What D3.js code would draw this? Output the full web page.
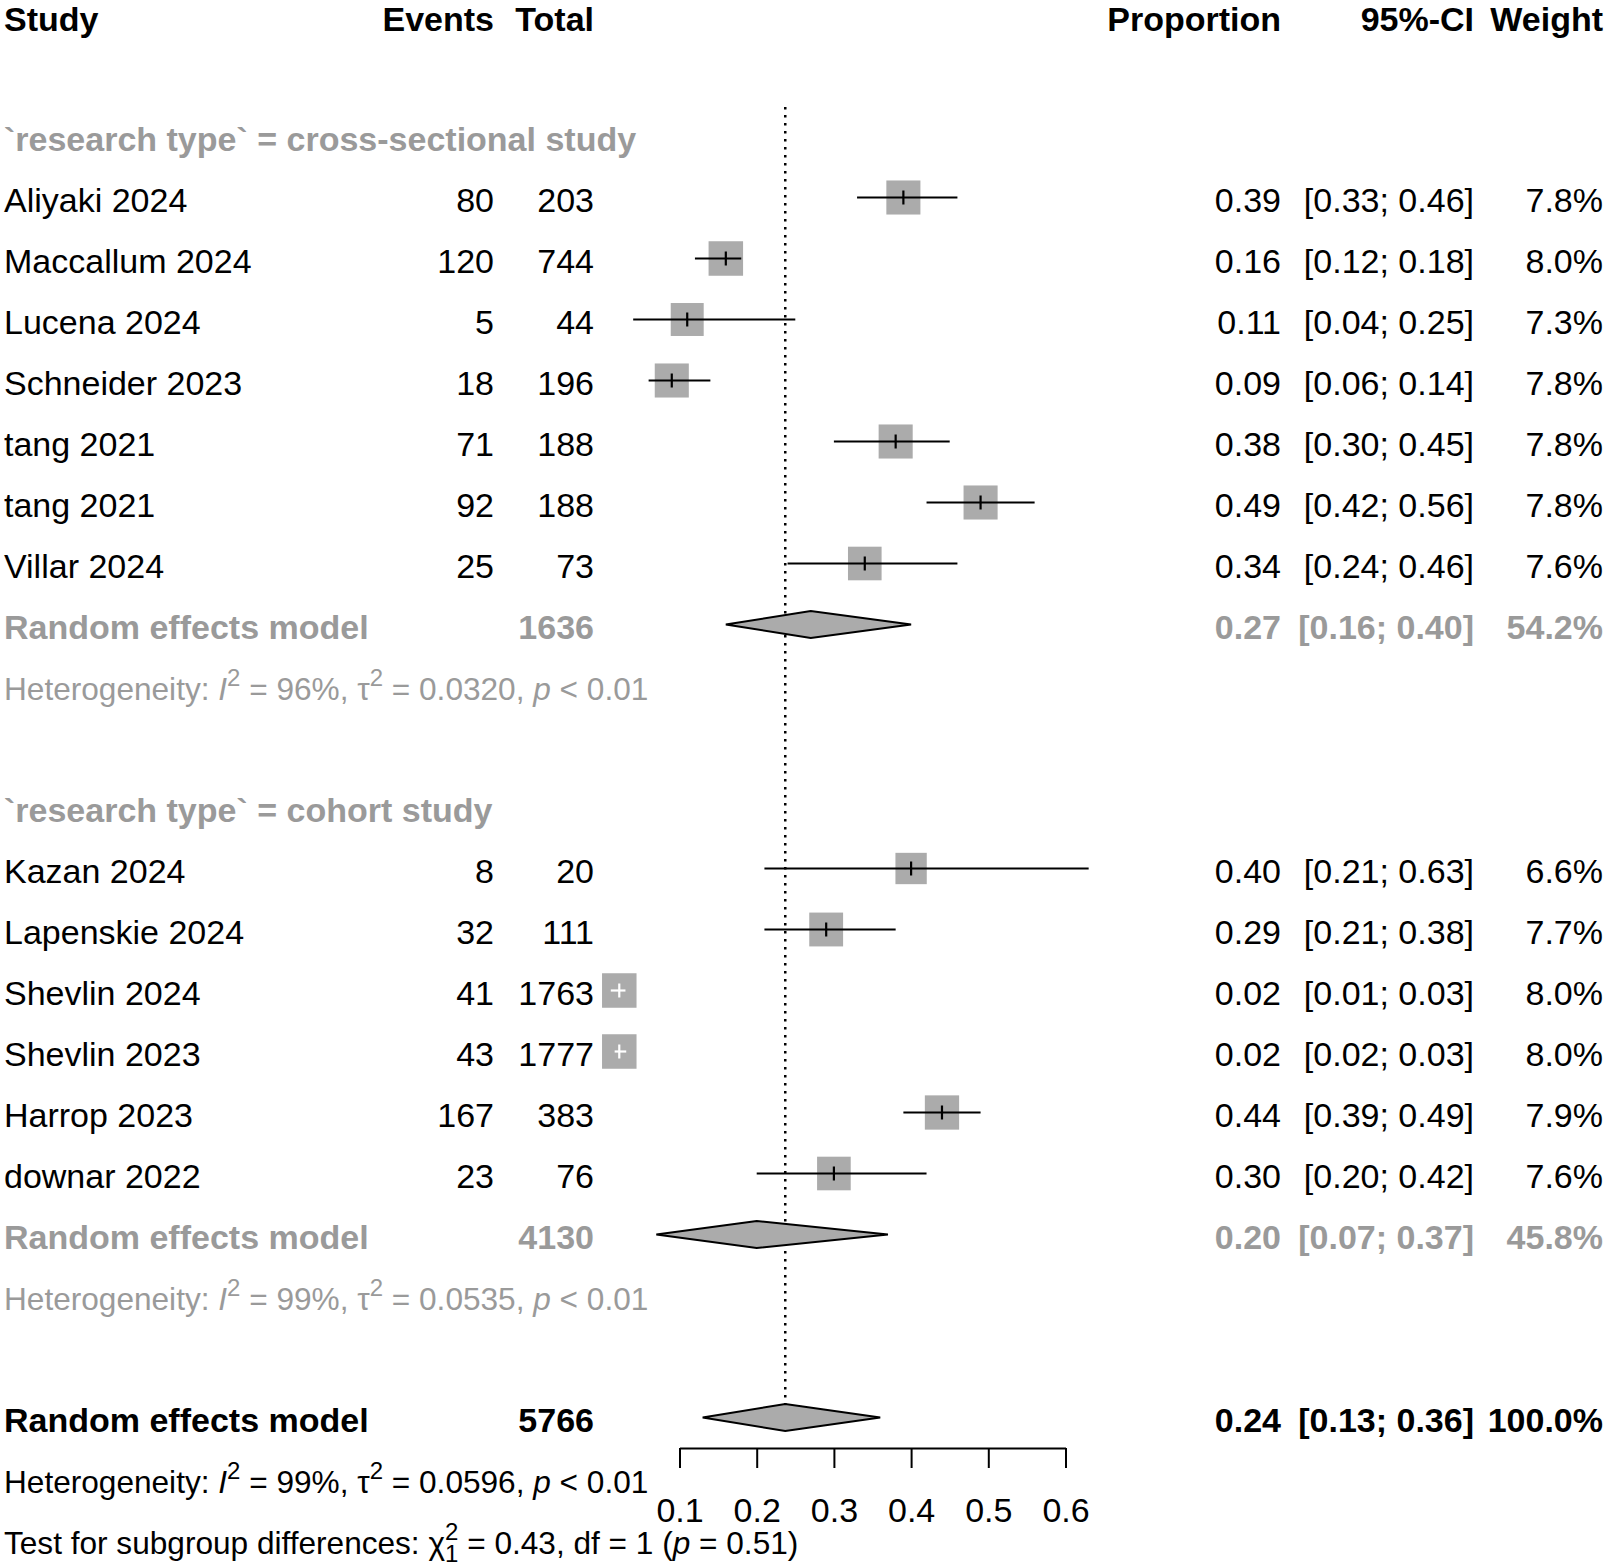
<!DOCTYPE html>
<html>
<head>
<meta charset="utf-8">
<script src="https://cdn.jsdelivr.net/npm/d3@7"></script>
<style>
  body { margin: 0; background: #fff; }
  svg { display: block; }
</style>
</head>
<body>
<script>
// study level data
var studyNames = ['Aliyaki 2024', 'Maccallum 2024', 'Lucena 2024', 'Schneider 2023', 'tang 2021', 'tang 2021', 'Villar 2024',
	'Kazan 2024', 'Lapenskie 2024', 'Shevlin 2024', 'Shevlin 2023', 'Harrop 2023', 'downar 2022'];
var studyGroup = [0, 0, 0, 0, 0, 0, 0, 1, 1, 1, 1, 1, 1];
var studyEvents = [80, 120, 5, 18, 71, 92, 25, 8, 32, 41, 43, 167, 23];
var studyTotal = [203, 744, 44, 196, 188, 188, 73, 20, 111, 1763, 1777, 383, 76];
var studyProp = [0.39, 0.16, 0.11, 0.09, 0.38, 0.49, 0.34, 0.40, 0.29, 0.022, 0.022, 0.44, 0.30];
var studyLower = [0.33, 0.12, 0.04, 0.06, 0.30, 0.42, 0.24, 0.21, 0.21, 0.011, 0.016, 0.39, 0.20];
var studyUpper = [0.46, 0.18, 0.25, 0.14, 0.45, 0.56, 0.46, 0.63, 0.38, 0.030, 0.031, 0.49, 0.42];
var studyWeight = [7.8, 8.0, 7.3, 7.8, 7.8, 7.8, 7.6, 6.6, 7.7, 8.0, 8.0, 7.9, 7.6];

// subgroups
var groupNames = ['cross-sectional study', 'cohort study'];
var groupTotal = [1636, 4130];
var groupProp = [0.27, 0.20];
var groupLower = [0.16, 0.07];
var groupUpper = [0.40, 0.37];
var groupWeight = [54.2, 45.8];
var groupI2 = [96, 99];
var groupTau2 = [0.0320, 0.0535];

// overall
var overallTotal = 5766;
var overallProp = 0.237;
var overallLower = 0.13;
var overallUpper = 0.36;
var overallI2 = 99;
var overallTau2 = 0.0596;
var testChi2 = 0.43, testDf = 1, testP = 0.51;

var axisTicks = [0.1, 0.2, 0.3, 0.4, 0.5, 0.6];
var headers = ['Study', 'Events', 'Total', 'Proportion', '95%-CI', 'Weight'];

var W = 1606, H = 1565;
var FONT = '"Liberation Sans", Arial, Helvetica, sans-serif';
var GREY = '#9a9a9a';
var FILL = '#ababab';
var HET = 31.6; // het / test lines are a touch smaller
var col = { study: 4, events: 494, total: 594, prop: 1281, ci: 1474, weight: 1603 };

var svg = d3.select('body').append('svg')
	.attr('width', W)
	.attr('height', H)
	.style('font-family', FONT);

var y = d3.scaleLinear().domain([0, 25]).range([14.5, 14.5 + 61 * 25]);
var x = d3.scaleLinear().domain([0.1, 0.6]).range([679.5, 1065.5]);
var side = d3.scaleSqrt().domain([0, 8]).range([0, 34.5]);
var f2 = d3.format('.2f'), f1 = d3.format('.1f'), f4 = d3.format('.4f');

// work out which row everything goes on
var studyRow = [], titleRow = [], remRow = [], hetRow = [];
var r = 2;
groupNames.forEach(function(g, gi) {
	titleRow[gi] = r++;
	studyNames.forEach(function(s, i) {
		if (studyGroup[i] === gi) studyRow[i] = r++;
	});
	remRow[gi] = r++;
	hetRow[gi] = r++;
	r++;
});
var overallRow = r, overallHetRow = r + 1, testRow = r + 2;

function label(row, xpos, anchor, str, bold, color, size) {
	return svg.append('text')
		.attr('x', xpos)
		.attr('y', y(row) + (row === 0 ? 16.5 : 14.5))
		.attr('text-anchor', anchor)
		.style('font-size', (size || 34) + 'px')
		.style('font-weight', bold ? 'bold' : 'normal')
		.attr('fill', color || '#000')
		.text(str);
}

// reference line at the pooled estimate
svg.append('line')
	.attr('x1', x(overallProp)).attr('x2', x(overallProp))
	.attr('y1', 107).attr('y2', y(overallRow) - 13.5)
	.attr('stroke', '#000')
	.attr('stroke-width', 2.5)
	.attr('stroke-dasharray', '2.5 5.5');

// header
var headX = [col.study, col.events, col.total, col.prop, col.ci, col.weight];
headers.forEach(function(h, i) {
	label(0, headX[i], i === 0 ? 'start' : 'end', h, true);
});

// studies
studyNames.forEach(function(s, i) {
	var row = studyRow[i];
	label(row, col.study, 'start', s);
	label(row, col.events, 'end', studyEvents[i]);
	label(row, col.total, 'end', studyTotal[i]);
	label(row, col.prop, 'end', f2(studyProp[i]));
	label(row, col.ci, 'end', '[' + f2(studyLower[i]) + '; ' + f2(studyUpper[i]) + ']');
	label(row, col.weight, 'end', f1(studyWeight[i]) + '%');

	var cy = y(row), cx = x(studyProp[i]), s2 = side(studyWeight[i]);
	svg.append('rect')
		.attr('x', cx - s2 / 2).attr('y', cy - s2 / 2)
		.attr('width', s2).attr('height', s2)
		.attr('fill', FILL);
	// CI lines go white when they fit inside the box
	var inside = x(studyUpper[i]) - x(studyLower[i]) < s2;
	var lc = inside ? '#fff' : '#000';
	svg.append('line')
		.attr('x1', x(studyLower[i])).attr('x2', x(studyUpper[i]))
		.attr('y1', cy).attr('y2', cy)
		.attr('stroke', lc).attr('stroke-width', 2.2);
	svg.append('line')
		.attr('x1', cx).attr('x2', cx)
		.attr('y1', cy - 7).attr('y2', cy + 7)
		.attr('stroke', lc).attr('stroke-width', 2.2);
});

function diamond(row, est, lo, hi) {
	var cy = y(row);
	svg.append('path')
		.attr('d', 'M' + x(lo) + ',' + cy + 'L' + x(est) + ',' + (cy - 13.5) +
			'L' + x(hi) + ',' + cy + 'L' + x(est) + ',' + (cy + 13.5) + 'Z')
		.attr('fill', FILL)
		.attr('stroke', '#000')
		.attr('stroke-width', 2)
		.attr('stroke-linejoin', 'miter');
}

function hetText(row, i2, tau2, color) {
	var t = label(row, col.study, 'start', null, false, color, HET);
	t.append('tspan').text('Heterogeneity: ');
	t.append('tspan').style('font-style', 'italic').text('I');
	t.append('tspan').attr('dy', -14).style('font-size', '24px').text('2');
	t.append('tspan').attr('dy', 14).text(' = ' + i2 + '%, τ');
	t.append('tspan').attr('dy', -14).style('font-size', '24px').text('2');
	t.append('tspan').attr('dy', 14).text(' = ' + f4(tau2) + ', ');
	t.append('tspan').style('font-style', 'italic').text('p');
	t.append('tspan').text(' < 0.01');
}

// subgroup summaries
groupNames.forEach(function(g, gi) {
	label(titleRow[gi], col.study, 'start', '`research type` = ' + g, true, GREY);
	label(remRow[gi], col.study, 'start', 'Random effects model', true, GREY);
	label(remRow[gi], col.total, 'end', groupTotal[gi], true, GREY);
	label(remRow[gi], col.prop, 'end', f2(groupProp[gi]), true, GREY);
	label(remRow[gi], col.ci, 'end', '[' + f2(groupLower[gi]) + '; ' + f2(groupUpper[gi]) + ']', true, GREY);
	label(remRow[gi], col.weight, 'end', f1(groupWeight[gi]) + '%', true, GREY);
	diamond(remRow[gi], groupProp[gi], groupLower[gi], groupUpper[gi]);
	hetText(hetRow[gi], groupI2[gi], groupTau2[gi], GREY);
});

// overall
label(overallRow, col.study, 'start', 'Random effects model', true);
label(overallRow, col.total, 'end', overallTotal, true);
label(overallRow, col.prop, 'end', f2(overallProp), true);
label(overallRow, col.ci, 'end', '[' + f2(overallLower) + '; ' + f2(overallUpper) + ']', true);
label(overallRow, col.weight, 'end', '100.0%', true);
diamond(overallRow, overallProp, overallLower, overallUpper);
hetText(overallHetRow, overallI2, overallTau2, '#000');

var tt = label(testRow, col.study, 'start', null, false, '#000', HET);
tt.append('tspan').text('Test for subgroup differences: χ');
tt.append('tspan').attr('dy', -14).style('font-size', '24px').text('2');
tt.append('tspan').attr('dx', -13.3).attr('dy', 22).style('font-size', '24px').text(testDf);
tt.append('tspan').attr('dy', -8).text(' = ' + f2(testChi2) + ', df = ' + testDf + ' (');
tt.append('tspan').style('font-style', 'italic').text('p');
tt.append('tspan').text(' = ' + f2(testP) + ')');

// x axis
var xAxis = d3.axisBottom(x)
	.tickValues(axisTicks)
	.tickSize(20)
	.tickSizeOuter(0)
	.tickPadding(30)
	.tickFormat(d3.format('.1f'));

var ax = svg.append('g')
	.attr('transform', 'translate(0,1448)')
	.call(xAxis);
ax.attr('font-size', null).attr('font-family', null);
ax.selectAll('text').style('font-size', '34px').attr('fill', '#000');
ax.selectAll('path, line').attr('stroke', '#000').attr('stroke-width', 2);
</script>
</body>
</html>
